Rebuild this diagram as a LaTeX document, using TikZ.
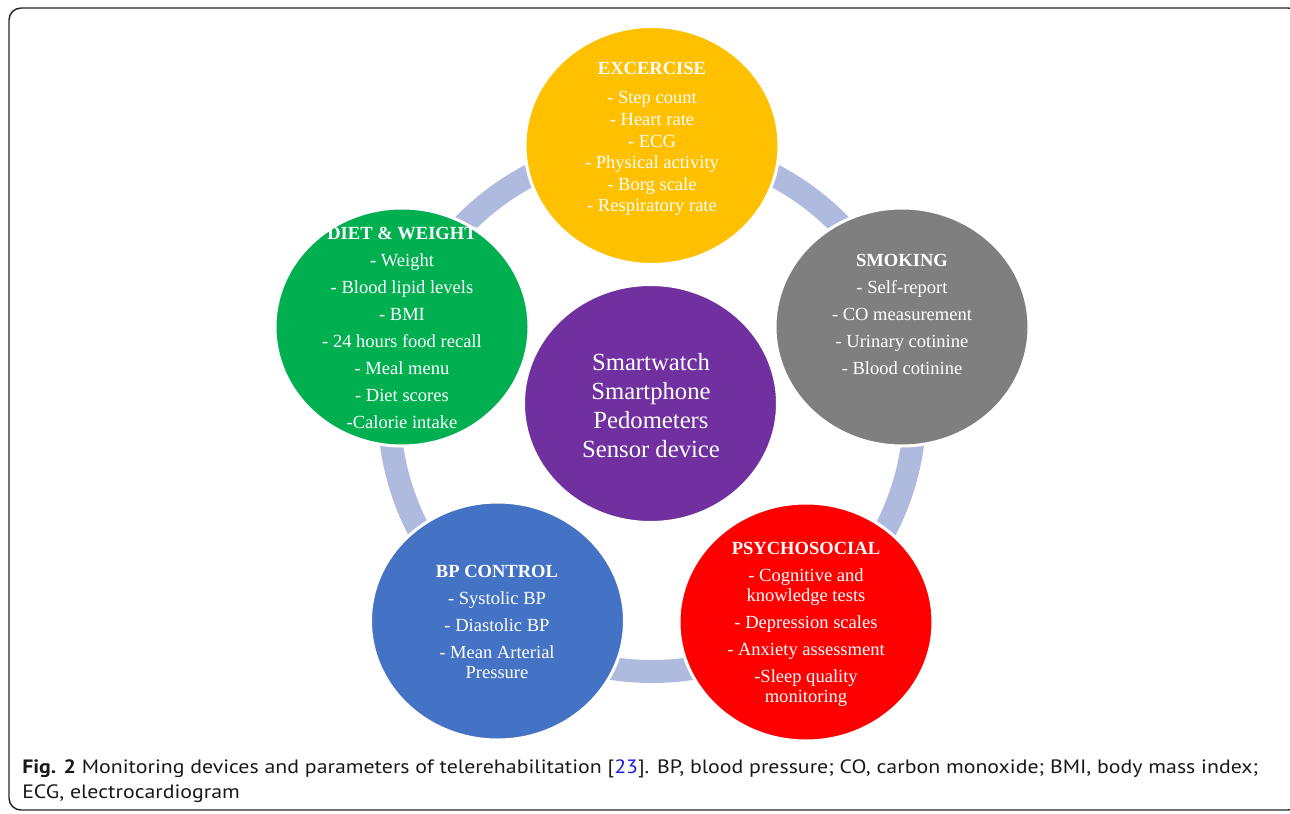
\documentclass[tikz,border=0pt]{standalone}
\usepackage{fontspec}
\setmainfont{Liberation Serif}
\newfontfamily\capfont[FakeStretch=1.13]{PT Sans}
\usetikzlibrary{shapes.geometric}
\definecolor{ringblue}{HTML}{AEBBDE}
\definecolor{exyellow}{HTML}{FFC000}
\definecolor{dietgreen}{HTML}{00B050}
\definecolor{smokegray}{HTML}{7F7F7F}
\definecolor{bpblue}{HTML}{4472C4}
\definecolor{psyred}{HTML}{FF0000}
\definecolor{devpurple}{HTML}{7030A0}
\definecolor{citeblue}{HTML}{1A1AE6}

\begin{document}
\begin{tikzpicture}[x=0.75pt,y=-0.75pt,
    every node/.style={inner sep=0pt},
    blob/.style={ellipse,draw=white,line width=2.25pt,minimum width=190.5pt,minimum height=178.5pt},
    lbl/.style={text=white,align=center}]
  \useasboundingbox (0,0) rectangle (1290,814);
  \clip (0,0) rectangle (1290,814);
  \draw[line width=1.1pt,rounded corners=9pt,black!85] (9,8) rectangle (1300,810);

  \coordinate (hub) at (652,408.5);
  \draw[ringblue,line width=17.25pt] (hub) circle [radius=263];

    \node (ex) [blob,fill=exyellow] at (652,145.5) {};
    \node (diet) [blob,fill=dietgreen] at (402,327) {};
    \node (smoke) [blob,fill=smokegray] at (902,327) {};
    \node (bp) [blob,fill=bpblue] at (497.5,621) {};
    \node (psy) [blob,fill=psyred] at (806,622) {};
    \node (dev) [blob,fill=devpurple] at (650.5,403.5) {};

    \node (exT) [lbl,font=\fontsize{13.9}{16.2}\selectfont] at (652,139)
      {\textbf{EXCERCISE}\\[6pt]- Step count\\- Heart rate\\- ECG\\- Physical activity\\- Borg scale\\- Respiratory rate};
    \node (smokeT) [lbl,font=\fontsize{13.9}{20.25}\selectfont] at (902,314)
      {\textbf{SMOKING}\\- Self-report\\- CO measurement\\- Urinary cotinine\\- Blood cotinine};
    \node (dietT) [lbl,font=\fontsize{13.9}{20.25}\selectfont] at (402,327.5)
      {\textbf{DIET \& WEIGHT}\\- Weight\\- Blood lipid levels\\- BMI\\- 24 hours food recall\\- Meal menu\\- Diet scores\\-Calorie intake};
    \node (devT) [lbl,font=\fontsize{18.5}{21.75}\selectfont] at (651,405.5)
      {Smartwatch\\Smartphone\\Pedometers\\Sensor device};
    \node (bpT) [lbl,font=\fontsize{13.9}{15}\selectfont] at (497,621.5)
      {\textbf{BP CONTROL}\\[5.25pt]- Systolic BP\\[5.25pt]- Diastolic BP\\[5.25pt]- Mean Arterial\\Pressure};
    \node (psyT) [lbl,font=\fontsize{13.9}{15}\selectfont] at (806,624)
      {\textbf{PSYCHOSOCIAL}\\[5.25pt]- Cognitive and\\knowledge tests\\[5.25pt]- Depression scales\\[5.25pt]- Anxiety assessment\\[5.25pt]-Sleep quality\\monitoring};

    \node (cap) [anchor=west,align=left,text=black!90,font=\capfont\fontsize{14.5}{18.75}\selectfont] at (22,781.5)
      {\textbf{Fig. 2} Monitoring devices and parameters of telerehabilitation [\textcolor{citeblue}{23}]. BP, blood pressure; CO, carbon monoxide; BMI, body mass index;\\ECG, electrocardiogram};
\end{tikzpicture}
\end{document}
